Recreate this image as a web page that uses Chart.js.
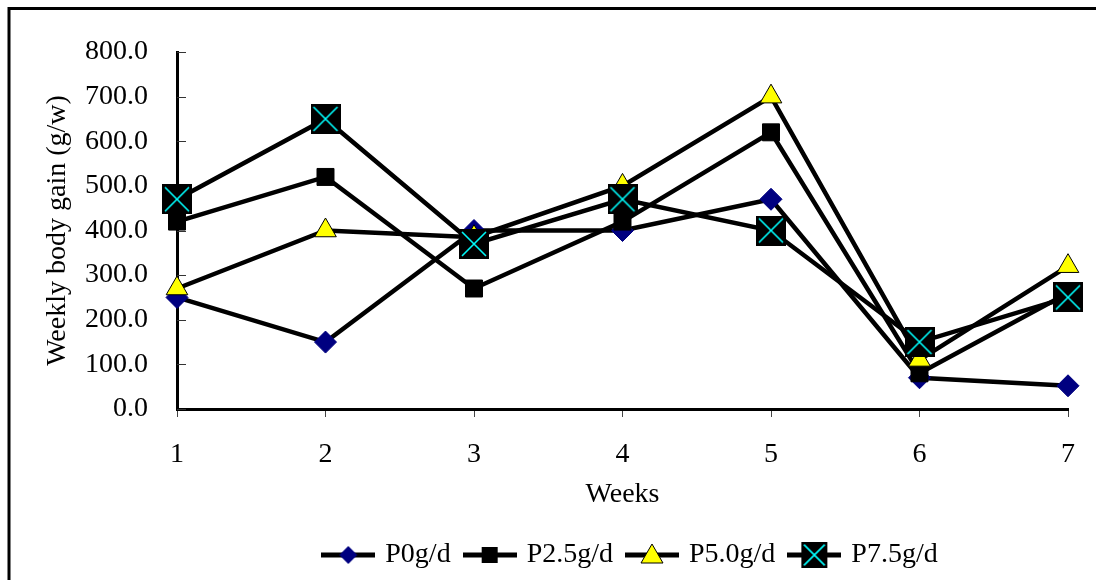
<!DOCTYPE html>
<html><head><meta charset="utf-8">
<script src="https://cdn.jsdelivr.net/npm/chart.js@4.4.1/dist/chart.umd.min.js"></script>
<style>html,body{margin:0;padding:0;background:#fff;overflow:hidden;} canvas{display:block;}</style>
</head><body>
<canvas id="c" width="1096" height="580"></canvas>
<script>
// ---- data ----
const weeks = ['1','2','3','4','5','6','7'];
const seriesNames = ['P0g/d','P2.5g/d','P5.0g/d','P7.5g/d'];
const p0  = [250, 150, 400, 400, 470, 70, 52];
const p25 = [420, 520, 270, 420, 620, 80, 260];
const p50 = [270, 400, 385, 500, 700, 110, 320];
const p75 = [470, 650, 370, 470, 400, 150, 250];
const yTicks = [0, 100, 200, 300, 400, 500, 600, 700, 800];
const xTitle = 'Weeks';
const yTitle = 'Weekly body gain (g/w)';

const FONT = "'Liberation Serif', 'Times New Roman', serif";
const FS = 28;

// ---- marker images ----
function xSquare(size) {
  const c = document.createElement('canvas');
  c.width = size; c.height = size;
  const g = c.getContext('2d');
  g.fillStyle = '#000'; g.fillRect(0, 0, size, size);
  g.strokeStyle = '#00FFFF'; g.lineWidth = 1.6;
  const m = size * 0.1;
  g.beginPath();
  g.moveTo(m, m); g.lineTo(size - m, size - m);
  g.moveTo(size - m, m); g.lineTo(m, size - m);
  g.stroke();
  return c;
}
function legendImg(kind) {
  const w = 54, h = 30;
  const c = document.createElement('canvas');
  c.width = w; c.height = h;
  const g = c.getContext('2d');
  const cy = h / 2, cx = w / 2;
  g.strokeStyle = '#000'; g.lineWidth = 5;
  g.beginPath(); g.moveTo(0, cy); g.lineTo(w, cy); g.stroke();
  if (kind === 0) {
    const r = 9;
    g.fillStyle = '#000080';
    g.beginPath(); g.moveTo(cx, cy - r); g.lineTo(cx + r, cy); g.lineTo(cx, cy + r); g.lineTo(cx - r, cy); g.closePath(); g.fill();
  } else if (kind === 1) {
    g.fillStyle = '#000'; g.fillRect(cx - 8, cy - 8, 16, 16);
  } else if (kind === 2) {
    g.fillStyle = '#FFFF00'; g.strokeStyle = '#000'; g.lineWidth = 1;
    g.beginPath(); g.moveTo(cx, cy - 11); g.lineTo(cx + 11, cy + 8); g.lineTo(cx - 11, cy + 8); g.closePath(); g.fill(); g.stroke();
  } else {
    const s = xSquare(26);
    g.drawImage(s, cx - 13, cy - 13);
  }
  return c;
}
const legendImgs = [0, 1, 2, 3].map(legendImg);
const xMarker = xSquare(30);

// ---- plugins ----
const frame = {
  id: 'frame',
  beforeDraw(chart) {
    const ctx = chart.ctx;
    ctx.save();
    ctx.fillStyle = '#fff';
    ctx.fillRect(0, 0, chart.width, chart.height);
    ctx.strokeStyle = '#000';
    ctx.lineWidth = 3;
    ctx.strokeRect(9, 8.5, 3000, 3000);
    ctx.restore();
  }
};
const innerTicks = {
  id: 'innerTicks',
  beforeDatasetsDraw(chart) {
    const y = chart.scales.y, ctx = chart.ctx, L = chart.chartArea.left;
    ctx.save();
    ctx.strokeStyle = '#333'; ctx.lineWidth = 1;
    y.ticks.forEach(t => {
      const py = Math.round(y.getPixelForValue(t.value)) + 0.5;
      ctx.beginPath(); ctx.moveTo(L, py); ctx.lineTo(L + 9, py); ctx.stroke();
    });
    ctx.restore();
  }
};
const legendShift = {
  id: 'legendShift',
  afterLayout(chart) {
    if (chart.legend) { chart.legend.left += 9; chart.legend.right += 9; }
  }
};

const common = { borderColor: '#000', borderWidth: 4.5, tension: 0, fill: false };

new Chart(document.getElementById('c'), {
  type: 'line',
  data: {
    labels: weeks,
    datasets: [
      Object.assign({ label: seriesNames[0], data: p0, order: 4, pointStyle: 'rectRot', pointRadius: 11,
        pointBackgroundColor: '#000080', pointBorderColor: '#000080', pointBorderWidth: 1 }, common),
      Object.assign({ label: seriesNames[1], data: p25, order: 3, pointStyle: 'rect', pointRadius: 12,
        pointBackgroundColor: '#000', pointBorderColor: '#000', pointBorderWidth: 1 }, common),
      Object.assign({ label: seriesNames[2], data: p50, order: 2, pointStyle: 'triangle', pointRadius: 12.5,
        pointBackgroundColor: '#FFFF00', pointBorderColor: '#000', pointBorderWidth: 1 }, common),
      Object.assign({ label: seriesNames[3], data: p75, order: 1, pointStyle: xMarker, pointRadius: 15 }, common)
    ]
  },
  options: {
    responsive: false,
    animation: false,
    devicePixelRatio: 1,
    layout: { padding: { left: 0, right: 26, top: 52, bottom: 1 } },
    plugins: {
      tooltip: { enabled: false },
      legend: {
        position: 'bottom',
        fullSize: false,
        labels: {
          usePointStyle: true,
          pointStyleWidth: 46,
          padding: 16,
          color: '#000',
          font: { family: FONT, size: FS },
          generateLabels(chart) {
            return chart.data.datasets.map((ds, i) => ({
              text: ds.label, pointStyle: legendImgs[i], datasetIndex: i,
              fillStyle: 'rgba(0,0,0,0)', strokeStyle: 'rgba(0,0,0,0)', lineWidth: 0,
              hidden: false, fontColor: '#000'
            }));
          }
        }
      }
    },
    scales: {
      x: {
        type: 'category',
        offset: false,
        afterFit(s) { s.height = 116; },
        grid: { display: true, drawOnChartArea: false, drawTicks: true, tickLength: 8, color: '#444', lineWidth: 1 },
        border: { display: true, color: '#000', width: 3 },
        ticks: { color: '#000', font: { family: FONT, size: FS }, padding: 21, maxRotation: 0 },
        title: { display: true, text: xTitle, color: '#000', font: { family: FONT, size: FS }, padding: { top: 0, bottom: 14 } }
      },
      y: {
        min: 0, max: 800,
        afterFit(s) { s.width = 177; },
        afterBuildTicks(s) { s.ticks = yTicks.map(v => ({ value: v })); },
        grid: { display: true, drawOnChartArea: false, drawTicks: false },
        border: { display: true, color: '#000', width: 3 },
        ticks: { color: '#000', font: { family: FONT, size: FS }, padding: 29, callback: v => Number(v).toFixed(1) },
        title: { display: true, text: yTitle, color: '#000', font: { family: FONT, size: FS }, padding: { top: 41, bottom: 0 } }
      }
    }
  },
  plugins: [frame, innerTicks, legendShift]
});
</script></body></html>
